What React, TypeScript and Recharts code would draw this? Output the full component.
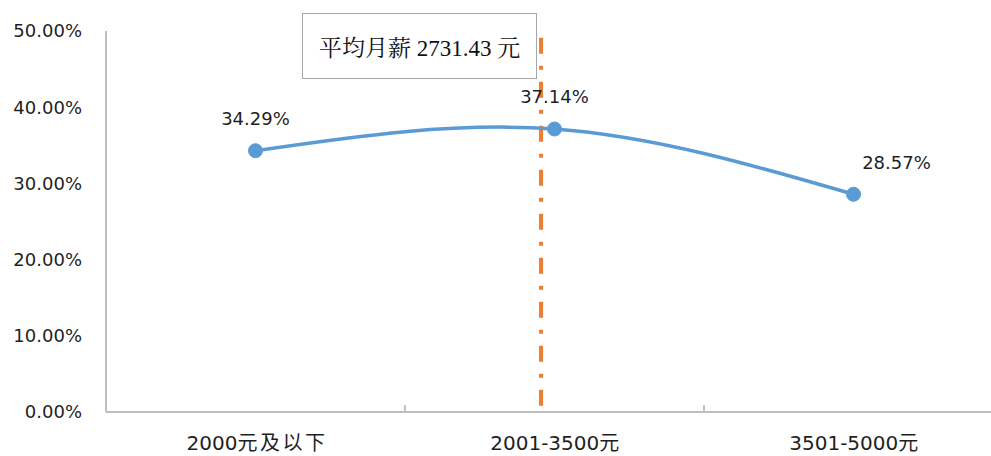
import React from 'react';
import { LineChart, Line, XAxis, YAxis, ReferenceLine } from 'recharts';

const categories = ['2000元及以下', '2001-3500元', '3501-5000元'];
const shares = [34.29, 37.14, 28.57];
const yTicks = [0, 10, 20, 30, 40, 50];
const avgSalaryText = '平均月薪 2731.43 元';
// average-salary marker: the band it falls in, its position inside that band (0..1) and its top value (%)
const avgLineCategory = categories[1];
const avgLineBandFraction = 0.455;
const avgLineTop = 49.1;

const data = categories.map((name, i) => ({ name, share: shares[i] }));

const CHART_W = 1010;
const CHART_H = 456;
const MARGIN = { top: 31, right: 7, bottom: 0, left: 0 };
const Y_AXIS_W = 106;
const BAND_W = (CHART_W - MARGIN.left - MARGIN.right - Y_AXIS_W) / categories.length;

const NUM_FONT = "'DejaVu Sans', 'Noto Sans CJK SC', sans-serif";
const TEXT_COLOR = '#1f1f1f';
const AXIS_COLOR = '#BFBFBF';

const CJK_RE = /([\u4e00-\u9fff]+)/;

const CatTick = (props: any) => {
  const { x, y, payload, index } = props;
  const half = payload && payload.offset ? payload.offset : 0;
  const parts = String(payload.value).split(CJK_RE).filter((s) => s.length > 0);
  return (
    <g>
      <text
        x={x + 1.5}
        y={y + 31}
        textAnchor="middle"
        dominantBaseline="central"
        fontFamily={NUM_FONT}
        fontSize={20}
        fill={TEXT_COLOR}
      >
        {parts.map((p, i) => (
          <tspan key={i} letterSpacing={CJK_RE.test(p) ? 2.5 : 0}>
            {p}
          </tspan>
        ))}
      </text>
      {index < categories.length - 1 && half > 0 ? (
        <line x1={x + half} x2={x + half} y1={y} y2={y - 7} stroke={AXIS_COLOR} strokeWidth={2} />
      ) : null}
    </g>
  );
};

const renderLabel = (props: any) => {
  const { x, y, value, index } = props;
  const dx = index === shares.length - 1 ? 43 : 0;
  return (
    <text
      x={x + dx}
      y={y - 32}
      textAnchor="middle"
      dominantBaseline="central"
      fontFamily={NUM_FONT}
      fontSize={18}
      fill={TEXT_COLOR}
    >
      {`${Number(value).toFixed(2)}%`}
    </text>
  );
};

const AvgLineShape = (props: any) => {
  const shift = (avgLineBandFraction - 0.5) * BAND_W;
  const { x1, y1, x2, y2 } = props;
  return (
    <line
      x1={x1 + shift}
      x2={x2 + shift}
      y1={y1}
      y2={y2}
      stroke="#ED7D31"
      strokeWidth={4}
      strokeDasharray="16 12 4 12"
    />
  );
};

export default function App() {
  return (
    <div
      style={{
        position: 'absolute',
        left: 0,
        top: 0,
        width: 991,
        height: 456,
        overflow: 'hidden',
        background: '#fff',
      }}
    >
      <LineChart width={CHART_W} height={CHART_H} data={data} margin={MARGIN}>
        <XAxis
          xAxisId="cat"
          dataKey="name"
          scale="band"
          height={44}
          interval={0}
          axisLine={{ stroke: AXIS_COLOR, strokeWidth: 2 }}
          tickLine={false}
          tickSize={0}
          tickMargin={0}
          tick={<CatTick />}
        />
        <YAxis
          domain={[0, 50]}
          ticks={yTicks}
          width={Y_AXIS_W}
          axisLine={{ stroke: AXIS_COLOR, strokeWidth: 2 }}
          tickLine={false}
          tickSize={0}
          tickMargin={24}
          tickFormatter={(v: number) => `${v.toFixed(2)}%`}
          tick={{ fontFamily: NUM_FONT, fontSize: 18, fill: TEXT_COLOR }}
        />
        <ReferenceLine
          xAxisId="cat"
          segment={[
            { x: avgLineCategory, y: avgLineTop },
            { x: avgLineCategory, y: 0 },
          ]}
          stroke="#ED7D31"
          strokeWidth={4}
          shape={AvgLineShape}
        />
        <Line
          xAxisId="cat"
          dataKey="share"
          type="natural"
          stroke="#5B9BD5"
          strokeWidth={3.5}
          dot={{ r: 7, fill: '#5B9BD5', stroke: '#5B9BD5', strokeWidth: 1 }}
          activeDot={false}
          label={renderLabel}
          isAnimationActive={false}
        />
      </LineChart>
      <div
        style={{
          position: 'absolute',
          left: 302,
          top: 13,
          width: 235,
          height: 66,
          boxSizing: 'border-box',
          border: '1.5px solid #A6A6A6',
          background: '#fff',
          display: 'flex',
          alignItems: 'center',
          justifyContent: 'center',
          fontFamily: "'Liberation Serif', 'Noto Serif CJK SC', 'Noto Sans CJK SC', serif",
          fontSize: 23,
          color: '#111',
          whiteSpace: 'nowrap',
        }}
      >
        {avgSalaryText}
      </div>
    </div>
  );
}
